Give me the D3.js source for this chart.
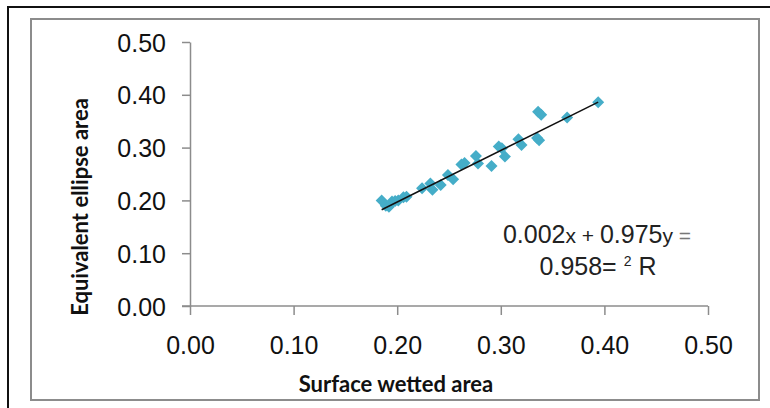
<!DOCTYPE html>
<html>
<head>
<meta charset="utf-8">
<script src="https://cdn.jsdelivr.net/npm/d3@7"></script>
<style>
  body { margin: 0; background: #fff; }
  text { font-family: "Liberation Sans", Arial, sans-serif; }
  .title { font-family: Lato, "Open Sans", sans-serif; font-weight: bold; }
</style>
</head>
<body>
<script>
(function () {

  // Surface wetted area (x) vs equivalent ellipse area (y)
  let wetted = [
    0.185, 0.189, 0.192, 0.195, 0.198, 0.201, 0.206, 0.209, 0.224, 0.232,
    0.234, 0.242, 0.249, 0.254, 0.262, 0.265, 0.276, 0.278, 0.291, 0.298,
    0.301, 0.304, 0.317, 0.320, 0.335, 0.337, 0.336, 0.339, 0.364, 0.394,
  ];

  let ellipse = [
    0.200, 0.190, 0.188, 0.198, 0.199, 0.200, 0.206, 0.207, 0.223, 0.232,
    0.220, 0.229, 0.248, 0.240, 0.268, 0.271, 0.284, 0.270, 0.265, 0.302,
    0.299, 0.283, 0.316, 0.305, 0.318, 0.314, 0.368, 0.362, 0.357, 0.386,
  ];

  let ticks = [0, 0.1, 0.2, 0.3, 0.4, 0.5];

  // trend line y = 0.975x + 0.002
  let slope = 0.975;
  let intercept = 0.002;

  let width = 770;
  let height = 408;

  let plot = { left: 190, right: 708, top: 42, bottom: 306 };

  let svg = d3.select('body').append('svg')
      .attr('width', width)
      .attr('height', height);

  // outer frame and chart area frame
  svg.append('rect')
    .attr('x', 8).attr('y', 7)
    .attr('width', 800).attr('height', 500)
    .attr('fill', 'none')
    .attr('stroke', '#111')
    .attr('stroke-width', 2);

  svg.append('rect')
    .attr('x', 31).attr('y', 19)
    .attr('width', 728).attr('height', 381)
    .attr('fill', 'none')
    .attr('stroke', '#8c8c8c')
    .attr('stroke-width', 2);

  let xScale = d3.scaleLinear().domain([0, 0.5]).range([plot.left, plot.right]);
  let yScale = d3.scaleLinear().domain([0, 0.5]).range([plot.bottom, plot.top]);

  let xAxis = d3.axisBottom(xScale)
      .tickValues(ticks)
      .tickFormat(d3.format('.2f'))
      .tickSize(9)
      .tickSizeOuter(0)
      .tickPadding(21);

  let yAxis = d3.axisLeft(yScale)
      .tickValues(ticks)
      .tickFormat(d3.format('.2f'))
      .tickSize(8)
      .tickSizeOuter(0)
      .tickPadding(16);

  let gx = svg.append('g')
      .attr('transform', 'translate(0,' + plot.bottom + ')')
      .call(xAxis);

  let gy = svg.append('g')
      .attr('transform', 'translate(' + plot.left + ',0)')
      .call(yAxis);

  // x axis line runs on a little past the y axis, like the original
  gx.select('.domain').attr('d', 'M' + (plot.left - 8) + ',0H' + plot.right);

  [gx, gy].forEach(function (g) {
    g.selectAll('.domain, line').attr('stroke', '#8c8c8c').attr('stroke-width', 1.5);
    g.selectAll('text')
      .attr('font-family', '"Liberation Sans", Arial, sans-serif')
      .attr('font-size', 25)
      .attr('fill', '#111');
  });
  gy.selectAll('text').attr('dy', '0.36em');

  // axis titles
  svg.append('text')
    .attr('class', 'title')
    .attr('x', 396)
    .attr('y', 392)
    .attr('text-anchor', 'middle')
    .attr('font-size', 22)
    .attr('fill', '#111')
    .text('Surface wetted area');

  svg.append('text')
    .attr('class', 'title')
    .attr('transform', 'translate(88,207) rotate(-90)')
    .attr('text-anchor', 'middle')
    .attr('font-size', 22)
    .attr('fill', '#111')
    .text('Equivalent ellipse area');

  // points
  let points = wetted.map((d, i) => ({ x: d, y: ellipse[i] }));

  svg.append('g').selectAll('path.point').data(points)
    .enter()
    .append('path')
    .attr('class', 'point')
    .attr('d', 'M0,-6L6,0L0,6L-6,0Z')
    .attr('transform', d => 'translate(' + xScale(d.x) + ',' + yScale(d.y) + ')')
    .attr('fill', '#45adc8');

  // trend line across the range of the data
  let x0 = d3.min(wetted);
  let x1 = d3.max(wetted);
  svg.append('line')
    .attr('x1', xScale(x0))
    .attr('y1', yScale(slope * x0 + intercept))
    .attr('x2', xScale(x1))
    .attr('y2', yScale(slope * x1 + intercept))
    .attr('stroke', '#111')
    .attr('stroke-width', 1.5);

  // equation label, kept as it appears in the picture
  let eq = svg.append('text')
    .attr('x', 597)
    .attr('y', 243)
    .attr('text-anchor', 'middle')
    .attr('font-size', 25)
    .attr('fill', '#222');
  eq.append('tspan').text('0.002');
  eq.append('tspan').attr('font-size', 21).text('x');
  eq.append('tspan').attr('font-size', 21).text(' + ');
  eq.append('tspan').text('0.975');
  eq.append('tspan').attr('font-size', 21).text('y');
  eq.append('tspan').attr('font-size', 21).attr('fill', '#777').text(' =');

  let r2 = svg.append('text')
    .attr('x', 598)
    .attr('y', 275)
    .attr('text-anchor', 'middle')
    .attr('font-size', 25)
    .attr('fill', '#222');
  r2.append('tspan').text('0.958= ');
  r2.append('tspan').attr('font-size', 14).attr('dy', -9).text('2');
  r2.append('tspan').attr('dy', 9).text(' R');

})();
</script>
</body>
</html>
